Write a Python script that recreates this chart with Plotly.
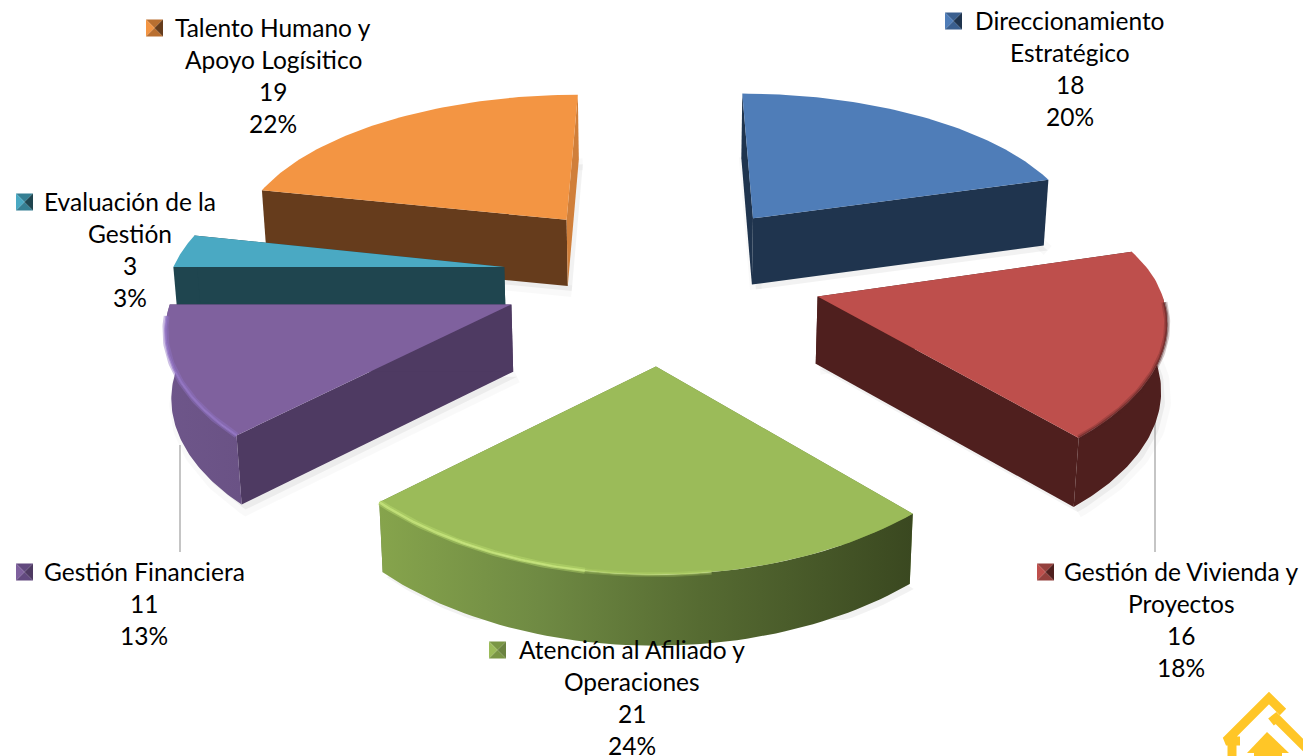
import numpy as np
import plotly.graph_objects as go

categories = ["Direccionamiento<br>Estratégico", "Gestión de Vivienda y<br>Proyectos",
              "Atención al Afiliado y<br>Operaciones", "Gestión Financiera",
              "Evaluación de la<br>Gestión", "Talento Humano y<br>Apoyo Logísitico"]
values = [18, 16, 21, 11, 3, 19]
percent_labels = ["20%", "18%", "24%", "13%", "3%", "22%"]
top_colors = ["#4F7DB8", "#BE4F4C", "#9BBB59", "#7F619E", "#4AA9C3", "#F39543"]
side_colors = ["#1F344E", "#4F1F1E", "#6B8340", "#4E3A62", "#1F454F", "#663C1C"]
key_mid = ["#3A5F8F", "#94403D", "#7A9645", "#62497F", "#357F93", "#B96F30"]
# label placement: centre x, first line y, key left x
label_cx = [1070, 1181, 632, 144, 130, 273]
label_y0 = [20, 571, 649, 571, 201, 27]
key_x = [945, 1037, 489, 16, 16, 146]
apex_nudge = [0, 0, 0.06, 0, 0, 0]
radii = [1, 1, 1, 0.985, 0.98, 1]

# projection of the tilted, exploded pie
CX, CY, A, K, PX_FRONT, PX_BACK, PY, EXPLODE = 662, 275, 340, 159, 0.11, 0.14, 0.15, 0.47
DEPTH0, DEPTH1 = 53, 14


def project(X, Y, bottom=False):
    X, Y = np.asarray(X, float), np.asarray(Y, float)
    wx = 1 / (1 - np.where(Y > 0, PX_FRONT, PX_BACK) * Y)
    wy = 1 / (1 - PY * Y)
    sx = CX + A * X * wx
    sy = CY + K * Y * wy
    if bottom:
        sx = CX + (sx - CX) * 0.988
        sy = sy + DEPTH0 + DEPTH1 * wy
    return sx, sy


def wedge_ground(t0, t1, off, n=60, r=1.0):
    t = np.radians(np.linspace(t0, t1, n))
    return off[0] + r * np.sin(t), off[1] - r * np.cos(t)


fig = go.Figure()


def poly(x, y, color=None, grad=None, line=None, lw=0):
    kw = dict(x=np.asarray(x).tolist(), y=np.asarray(y).tolist(), mode="lines", fill="toself",
              hoverinfo="skip", showlegend=False,
              line=dict(width=lw, color=line or "rgba(0,0,0,0)"))
    if grad:
        kw["fillgradient"] = dict(type="horizontal", colorscale=grad)
    else:
        kw["fillcolor"] = color
    fig.add_trace(go.Scatter(**kw))


def stroke(x, y, color, w):
    fig.add_trace(go.Scatter(x=np.asarray(x).tolist(), y=np.asarray(y).tolist(), mode="lines",
                             hoverinfo="skip", showlegend=False,
                             line=dict(color=color, width=w)))


total = sum(values)
angles = np.cumsum([0] + [v / total * 360 for v in values])
wedges = []
for i in range(len(values)):
    t0, t1 = angles[i], angles[i + 1]
    m = np.radians((t0 + t1) / 2)
    off = (EXPLODE * np.sin(m), -EXPLODE * np.cos(m))
    wedges.append((t0, t1, off))

# soft ground shadow
for i, (t0, t1, off) in enumerate(wedges):
    gx, gy = wedge_ground(t0, t1, off, r=radii[i])
    gx = np.r_[off[0], gx]
    gy = np.r_[off[1], gy]
    sx, sy = project(gx, gy, bottom=True)
    sx2 = sx + 4
    sy2 = sy + 5
    if i == 2:
        sy2 = np.minimum(sy2, 620)
    poly(sx2, sy2, color="rgba(0,0,0,0.05)", line="rgba(0,0,0,0.025)", lw=12 if i != 2 else 0)

# leader lines
stroke([1155, 1155], [420, 552], "#A6A6A6", 1.3)
stroke([180, 180], [445, 552], "#A6A6A6", 1.3)

end_cut_colors = [side_colors[0], side_colors[1], side_colors[2], side_colors[3], side_colors[4], "#D07F3A"]
order = [0, 5, 4, 3, 1, 2]
# (start angle, end angle, colour, width)
rim_fx = {
    1: [(92, 139.1, "rgba(79,31,30,0.25)", 6), (92, 139.1, "rgba(79,31,30,0.45)", 3)],
    2: [(190, 225, "rgba(190,225,115,0.40)", 6), (190, 225, "rgba(205,235,130,0.70)", 2.5),
        (172, 190, "rgba(190,225,115,0.22)", 5), (172, 190, "rgba(205,235,130,0.35)", 2)],
    3: [(225, 266, "rgba(145,115,195,0.45)", 6), (225, 266, "rgba(150,120,200,0.70)", 2.5)],
}
wall_grads = {
    2: [[0, "#86A44C"], [0.3, "#6F8A43"], [0.6, "#566B32"], [1, "#3A4820"]],
    3: [[0, "#6E568A"], [1, "#6A5285"]],
}
for i in order:
    t0, t1, off = wedges[i]
    rad = radii[i]
    # cut faces
    for t, col in ((t0, side_colors[i]), (t1, end_cut_colors[i])):
        r = np.radians(t)
        gx = [off[0], off[0] + rad * np.sin(r)]
        gy = [off[1] + apex_nudge[i], off[1] - rad * np.cos(r)]
        ax, ay = project(gx, gy)
        bx, by = project(gx, gy, bottom=True)
        poly([ax[0], ax[1], bx[1], bx[0], ax[0]], [ay[0], ay[1], by[1], by[0], ay[0]], color=col)
    # outer wall (only the front-facing part)
    a0, a1 = max(t0, 90), min(t1, 270)
    if a1 > a0:
        gx, gy = wedge_ground(a0, a1, off, r=rad)
        ax, ay = project(gx, gy)
        bx, by = project(gx, gy, bottom=True)
        poly(np.r_[ax, bx[::-1], ax[0]], np.r_[ay, by[::-1], ay[0]],
             color=side_colors[i] if i not in wall_grads else None,
             grad=wall_grads.get(i))
    # top face
    gx, gy = wedge_ground(t0, t1, off, r=rad)
    sx, sy = project(np.r_[off[0], gx, off[0]], np.r_[off[1] + apex_nudge[i], gy, off[1] + apex_nudge[i]])
    poly(sx, sy, color=top_colors[i])
    # rim bevel
    for r0, r1, c, w in rim_fx.get(i, []):
        gx, gy = wedge_ground(r0, r1, off, r=rad)
        rx, ry = project(gx, gy)
        stroke(rx, ry, c, w)

# legend keys with the pyramid bevel
for i in range(len(values)):
    x0 = key_x[i]
    yc = label_y0[i] + 1
    s = 17
    L, R, T, B = x0, x0 + s, yc - s / 2, yc + s / 2
    mx, my = x0 + s / 2, yc
    poly([L, R, mx, L], [T, T, my, T], color=key_mid[i])
    poly([L, mx, L, L], [T, my, B, T], color=top_colors[i])
    poly([L, R, mx, L], [B, B, my, B], color=key_mid[i])
    poly([R, R, mx, R], [T, B, my, T], color=side_colors[i])

annotations = []
for i, cat in enumerate(categories):
    lines = cat.split("<br>") + [str(values[i]), percent_labels[i]]
    for j, t in enumerate(lines):
        annotations.append(dict(x=label_cx[i], y=label_y0[i] + j * 32.3, text=t, showarrow=False,
                                xanchor="center", yanchor="middle", xref="x", yref="y",
                                font=dict(family="Lato", size=24.5, color="#000000")))

# corner logo
GOLD = "#FFC627"
stroke([1283, 1269, 1226, 1240], [712, 698, 741, 741], GOLD, 9)
stroke([1232, 1232], [741, 760], GOLD, 9)
stroke([1271, 1276, 1310], [722, 718, 752], GOLD, 9)
poly([1267, 1289, 1247, 1267], [732, 753, 753, 732], color=GOLD)
poly([1254, 1282, 1282, 1254, 1254], [750, 750, 760, 760, 750], color=GOLD)

fig.update_layout(
    width=1303, height=756, margin=dict(l=0, r=0, t=0, b=0),
    paper_bgcolor="white", plot_bgcolor="white", showlegend=False,
    xaxis=dict(range=[0, 1303], visible=False, fixedrange=True),
    yaxis=dict(range=[756, 0], visible=False, fixedrange=True),
    annotations=annotations,
)
fig.write_html("out.html", config={"displayModeBar": False},
               post_script="document.body.style.margin='0';document.documentElement.style.overflow='hidden';")
